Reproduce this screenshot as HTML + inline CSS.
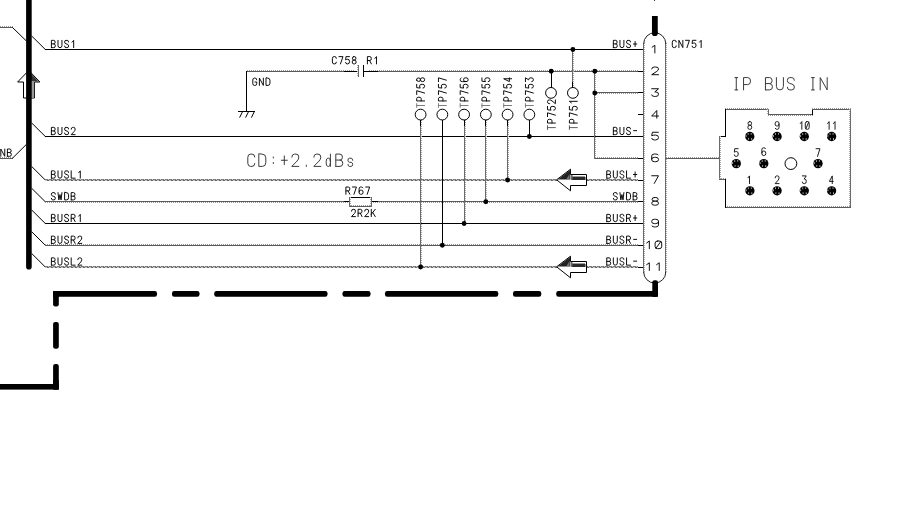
<!DOCTYPE html>
<html><head><meta charset="utf-8"><title>IP BUS IN schematic</title>
<style>
html,body{margin:0;padding:0;background:#fff;}
body{width:902px;height:512px;overflow:hidden;font-family:"Liberation Sans",sans-serif;}
svg{display:block;}
</style></head>
<body>
<svg width="902" height="512" viewBox="0 0 902 512">
<polygon points="28.8,70.4 39.8,82.0 34.5,82.0 34.5,98.0 23.5,98.0 23.5,82.0 17.6,82.0" fill="#fff" stroke="#000" stroke-width="1"/>
<polygon points="29,71.6 38.6,81.6 29,81.6" fill="#333"/>
<rect x="31" y="82" width="3.2" height="15.6" fill="#999"/>
<path d="M28.9,-3 L28.9,266.8" stroke="#000" stroke-width="5.6" stroke-linecap="round" fill="none"/>
<rect x="0" y="27" width="13" height="1" fill="#5a5a5a"/>
<line x1="0" y1="26.5" x2="13" y2="26.5" stroke="#9a9a9a" stroke-width="1" stroke-dasharray="1 1"/>
<path d="M12.5,27.5 L26.2,40.8" stroke="#000" stroke-width="1" fill="none"/>
<rect x="0" y="158" width="13" height="1" fill="#5a5a5a"/>
<line x1="0" y1="157.5" x2="13" y2="157.5" stroke="#9a9a9a" stroke-width="1" stroke-dasharray="1 1"/>
<path d="M12.5,158.2 L26.2,144.6" stroke="#000" stroke-width="1" fill="none"/>
<path d="M 0.80,156.30 L 0.80,149.00 L 4.75,156.30 L 4.75,149.00 M 7.40,156.30 L 7.40,149.00 L 9.77,149.00 Q 11.15,149.00 11.15,150.83 Q 11.15,152.53 9.77,152.53 L 7.40,152.53 M 9.77,152.53 Q 11.35,152.53 11.35,154.41 Q 11.35,156.30 9.77,156.30 L 7.40,156.30" fill="none" stroke="#000" stroke-width="0.95" stroke-linecap="round" stroke-linejoin="round"/>
<path d="M31.6,35.9 L45.3,49.5" stroke="#000" stroke-width="1" fill="none"/>
<path d="M31.6,122.9 L45.3,136.5" stroke="#000" stroke-width="1" fill="none"/>
<path d="M31.6,166.4 L45.3,180.0" stroke="#000" stroke-width="1" fill="none"/>
<path d="M31.6,188.2 L45.3,201.8" stroke="#000" stroke-width="1" fill="none"/>
<path d="M31.6,209.9 L45.3,223.5" stroke="#000" stroke-width="1" fill="none"/>
<path d="M31.6,231.7 L45.3,245.2" stroke="#000" stroke-width="1" fill="none"/>
<path d="M31.6,253.4 L45.3,267.0" stroke="#000" stroke-width="1" fill="none"/>
<rect x="45" y="49" width="598.7" height="1" fill="#000"/>
<rect x="45" y="136" width="598.7" height="1" fill="#000"/>
<rect x="45" y="223" width="598.7" height="1" fill="#000"/>
<rect x="45" y="201" width="593" height="1" fill="#5a5a5a"/>
<line x1="45" y1="202.5" x2="638" y2="202.5" stroke="#9a9a9a" stroke-width="1" stroke-dasharray="1 1"/>
<rect x="45" y="245" width="593" height="1" fill="#5a5a5a"/>
<line x1="45" y1="244.5" x2="638" y2="244.5" stroke="#9a9a9a" stroke-width="1" stroke-dasharray="1 1"/>
<rect x="45" y="179" width="593" height="2" fill="#c4c4c4"/>
<line x1="45" y1="179.5" x2="638" y2="179.5" stroke="#7a7a7a" stroke-width="1" stroke-dasharray="3 1"/>
<line x1="45" y1="180.5" x2="638" y2="180.5" stroke="#666" stroke-width="1" stroke-dasharray="2 2" stroke-dashoffset="-2"/>
<rect x="45" y="266" width="593" height="2" fill="#c4c4c4"/>
<line x1="45" y1="266.5" x2="638" y2="266.5" stroke="#7a7a7a" stroke-width="1" stroke-dasharray="3 1"/>
<line x1="45" y1="267.5" x2="638" y2="267.5" stroke="#666" stroke-width="1" stroke-dasharray="2 2" stroke-dashoffset="-2"/>
<rect x="247" y="71" width="391" height="1" fill="#5a5a5a"/>
<line x1="247" y1="70.5" x2="638" y2="70.5" stroke="#9a9a9a" stroke-width="1" stroke-dasharray="1 1"/>
<rect x="595" y="92" width="43" height="1" fill="#5a5a5a"/>
<line x1="595" y1="93.5" x2="638" y2="93.5" stroke="#9a9a9a" stroke-width="1" stroke-dasharray="1 1"/>
<rect x="595" y="158" width="43" height="1" fill="#5a5a5a"/>
<line x1="595" y1="157.5" x2="638" y2="157.5" stroke="#9a9a9a" stroke-width="1" stroke-dasharray="1 1"/>
<rect x="638" y="71" width="5.7000000000000455" height="1" fill="#000"/>
<rect x="638" y="92" width="5.7000000000000455" height="1" fill="#000"/>
<rect x="638" y="114" width="5.7000000000000455" height="1" fill="#000"/>
<rect x="638" y="158" width="5.7000000000000455" height="1" fill="#000"/>
<rect x="638" y="180" width="5.7000000000000455" height="1" fill="#000"/>
<rect x="638" y="201" width="5.7000000000000455" height="1" fill="#000"/>
<rect x="638" y="245" width="5.7000000000000455" height="1" fill="#000"/>
<rect x="638" y="267" width="5.7000000000000455" height="1" fill="#000"/>
<path d="M 51.40,47.65 L 51.40,40.35 L 53.77,40.35 Q 55.15,40.35 55.15,42.17 Q 55.15,43.88 53.77,43.88 L 51.40,43.88 M 53.77,43.88 Q 55.35,43.88 55.35,45.76 Q 55.35,47.65 53.77,47.65 L 51.40,47.65 M 58.00,40.35 L 58.00,45.58 Q 58.00,47.65 59.98,47.65 Q 61.95,47.65 61.95,45.58 L 61.95,40.35 M 68.55,41.93 Q 68.55,40.35 67.17,40.35 L 65.98,40.35 Q 64.60,40.35 64.60,42.05 Q 64.60,43.51 65.98,43.82 L 67.17,44.18 Q 68.55,44.49 68.55,45.95 Q 68.55,47.65 67.17,47.65 L 65.98,47.65 Q 64.60,47.65 64.60,46.07 M 72.09,42.17 L 73.67,40.35 L 73.67,47.65" fill="none" stroke="#000" stroke-width="0.95" stroke-linecap="round" stroke-linejoin="round"/>
<path d="M 51.40,134.65 L 51.40,127.35 L 53.77,127.35 Q 55.15,127.35 55.15,129.18 Q 55.15,130.88 53.77,130.88 L 51.40,130.88 M 53.77,130.88 Q 55.35,130.88 55.35,132.76 Q 55.35,134.65 53.77,134.65 L 51.40,134.65 M 58.00,127.35 L 58.00,132.58 Q 58.00,134.65 59.98,134.65 Q 61.95,134.65 61.95,132.58 L 61.95,127.35 M 68.55,128.93 Q 68.55,127.35 67.17,127.35 L 65.98,127.35 Q 64.60,127.35 64.60,129.05 Q 64.60,130.51 65.98,130.82 L 67.17,131.18 Q 68.55,131.49 68.55,132.95 Q 68.55,134.65 67.17,134.65 L 65.98,134.65 Q 64.60,134.65 64.60,133.07 M 71.20,129.18 Q 71.20,127.35 72.78,127.35 L 73.57,127.35 Q 75.15,127.35 75.15,129.18 Q 75.15,130.39 74.16,131.49 L 71.20,134.65 L 75.15,134.65" fill="none" stroke="#000" stroke-width="0.95" stroke-linecap="round" stroke-linejoin="round"/>
<path d="M 51.40,178.15 L 51.40,170.85 L 53.77,170.85 Q 55.15,170.85 55.15,172.68 Q 55.15,174.38 53.77,174.38 L 51.40,174.38 M 53.77,174.38 Q 55.35,174.38 55.35,176.26 Q 55.35,178.15 53.77,178.15 L 51.40,178.15 M 58.00,170.85 L 58.00,176.08 Q 58.00,178.15 59.98,178.15 Q 61.95,178.15 61.95,176.08 L 61.95,170.85 M 68.55,172.43 Q 68.55,170.85 67.17,170.85 L 65.98,170.85 Q 64.60,170.85 64.60,172.55 Q 64.60,174.01 65.98,174.32 L 67.17,174.68 Q 68.55,174.99 68.55,176.45 Q 68.55,178.15 67.17,178.15 L 65.98,178.15 Q 64.60,178.15 64.60,176.57 M 71.20,170.85 L 71.20,178.15 L 75.15,178.15 M 78.69,172.68 L 80.27,170.85 L 80.27,178.15" fill="none" stroke="#000" stroke-width="0.95" stroke-linecap="round" stroke-linejoin="round"/>
<path d="M 55.35,194.18 Q 55.35,192.60 53.97,192.60 L 52.78,192.60 Q 51.40,192.60 51.40,194.30 Q 51.40,195.76 52.78,196.07 L 53.97,196.43 Q 55.35,196.74 55.35,198.20 Q 55.35,199.90 53.97,199.90 L 52.78,199.90 Q 51.40,199.90 51.40,198.32 M 58.00,192.60 L 58.89,199.90 L 59.98,194.55 L 61.06,199.90 L 61.95,192.60 M 64.60,192.60 L 64.60,199.90 L 66.57,199.90 Q 68.55,199.90 68.55,197.71 L 68.55,194.79 Q 68.55,192.60 66.57,192.60 Z M 71.20,199.90 L 71.20,192.60 L 73.57,192.60 Q 74.95,192.60 74.95,194.43 Q 74.95,196.13 73.57,196.13 L 71.20,196.13 M 73.57,196.13 Q 75.15,196.13 75.15,198.01 Q 75.15,199.90 73.57,199.90 L 71.20,199.90" fill="none" stroke="#000" stroke-width="0.95" stroke-linecap="round" stroke-linejoin="round"/>
<path d="M 51.40,221.65 L 51.40,214.35 L 53.77,214.35 Q 55.15,214.35 55.15,216.18 Q 55.15,217.88 53.77,217.88 L 51.40,217.88 M 53.77,217.88 Q 55.35,217.88 55.35,219.76 Q 55.35,221.65 53.77,221.65 L 51.40,221.65 M 58.00,214.35 L 58.00,219.58 Q 58.00,221.65 59.98,221.65 Q 61.95,221.65 61.95,219.58 L 61.95,214.35 M 68.55,215.93 Q 68.55,214.35 67.17,214.35 L 65.98,214.35 Q 64.60,214.35 64.60,216.05 Q 64.60,217.51 65.98,217.82 L 67.17,218.18 Q 68.55,218.49 68.55,219.95 Q 68.55,221.65 67.17,221.65 L 65.98,221.65 Q 64.60,221.65 64.60,220.07 M 71.20,221.65 L 71.20,214.35 L 73.57,214.35 Q 75.15,214.35 75.15,216.30 Q 75.15,218.24 73.57,218.24 L 71.20,218.24 M 73.37,218.24 L 75.15,221.65 M 78.69,216.18 L 80.27,214.35 L 80.27,221.65" fill="none" stroke="#000" stroke-width="0.95" stroke-linecap="round" stroke-linejoin="round"/>
<path d="M 51.40,243.40 L 51.40,236.10 L 53.77,236.10 Q 55.15,236.10 55.15,237.93 Q 55.15,239.63 53.77,239.63 L 51.40,239.63 M 53.77,239.63 Q 55.35,239.63 55.35,241.51 Q 55.35,243.40 53.77,243.40 L 51.40,243.40 M 58.00,236.10 L 58.00,241.33 Q 58.00,243.40 59.98,243.40 Q 61.95,243.40 61.95,241.33 L 61.95,236.10 M 68.55,237.68 Q 68.55,236.10 67.17,236.10 L 65.98,236.10 Q 64.60,236.10 64.60,237.80 Q 64.60,239.26 65.98,239.57 L 67.17,239.93 Q 68.55,240.24 68.55,241.70 Q 68.55,243.40 67.17,243.40 L 65.98,243.40 Q 64.60,243.40 64.60,241.82 M 71.20,243.40 L 71.20,236.10 L 73.57,236.10 Q 75.15,236.10 75.15,238.05 Q 75.15,239.99 73.57,239.99 L 71.20,239.99 M 73.37,239.99 L 75.15,243.40 M 77.80,237.93 Q 77.80,236.10 79.38,236.10 L 80.17,236.10 Q 81.75,236.10 81.75,237.93 Q 81.75,239.14 80.76,240.24 L 77.80,243.40 L 81.75,243.40" fill="none" stroke="#000" stroke-width="0.95" stroke-linecap="round" stroke-linejoin="round"/>
<path d="M 51.40,265.15 L 51.40,257.85 L 53.77,257.85 Q 55.15,257.85 55.15,259.67 Q 55.15,261.38 53.77,261.38 L 51.40,261.38 M 53.77,261.38 Q 55.35,261.38 55.35,263.26 Q 55.35,265.15 53.77,265.15 L 51.40,265.15 M 58.00,257.85 L 58.00,263.08 Q 58.00,265.15 59.98,265.15 Q 61.95,265.15 61.95,263.08 L 61.95,257.85 M 68.55,259.43 Q 68.55,257.85 67.17,257.85 L 65.98,257.85 Q 64.60,257.85 64.60,259.55 Q 64.60,261.01 65.98,261.32 L 67.17,261.68 Q 68.55,261.99 68.55,263.45 Q 68.55,265.15 67.17,265.15 L 65.98,265.15 Q 64.60,265.15 64.60,263.57 M 71.20,257.85 L 71.20,265.15 L 75.15,265.15 M 77.80,259.67 Q 77.80,257.85 79.38,257.85 L 80.17,257.85 Q 81.75,257.85 81.75,259.67 Q 81.75,260.89 80.76,261.99 L 77.80,265.15 L 81.75,265.15" fill="none" stroke="#000" stroke-width="0.95" stroke-linecap="round" stroke-linejoin="round"/>
<path d="M 613.35,47.65 L 613.35,40.35 L 615.72,40.35 Q 617.10,40.35 617.10,42.17 Q 617.10,43.88 615.72,43.88 L 613.35,43.88 M 615.72,43.88 Q 617.30,43.88 617.30,45.76 Q 617.30,47.65 615.72,47.65 L 613.35,47.65 M 619.95,40.35 L 619.95,45.58 Q 619.95,47.65 621.93,47.65 Q 623.90,47.65 623.90,45.58 L 623.90,40.35 M 630.50,41.93 Q 630.50,40.35 629.12,40.35 L 627.93,40.35 Q 626.55,40.35 626.55,42.05 Q 626.55,43.51 627.93,43.82 L 629.12,44.18 Q 630.50,44.49 630.50,45.95 Q 630.50,47.65 629.12,47.65 L 627.93,47.65 Q 626.55,47.65 626.55,46.07 M 633.45,44.00 L 636.80,44.00 M 635.12,41.45 L 635.12,46.55" fill="none" stroke="#000" stroke-width="0.95" stroke-linecap="round" stroke-linejoin="round"/>
<path d="M 613.35,134.65 L 613.35,127.35 L 615.72,127.35 Q 617.10,127.35 617.10,129.18 Q 617.10,130.88 615.72,130.88 L 613.35,130.88 M 615.72,130.88 Q 617.30,130.88 617.30,132.76 Q 617.30,134.65 615.72,134.65 L 613.35,134.65 M 619.95,127.35 L 619.95,132.58 Q 619.95,134.65 621.93,134.65 Q 623.90,134.65 623.90,132.58 L 623.90,127.35 M 630.50,128.93 Q 630.50,127.35 629.12,127.35 L 627.93,127.35 Q 626.55,127.35 626.55,129.05 Q 626.55,130.51 627.93,130.82 L 629.12,131.18 Q 630.50,131.49 630.50,132.95 Q 630.50,134.65 629.12,134.65 L 627.93,134.65 Q 626.55,134.65 626.55,133.07 M 633.64,130.64 L 636.61,130.64" fill="none" stroke="#000" stroke-width="0.95" stroke-linecap="round" stroke-linejoin="round"/>
<path d="M 606.75,178.15 L 606.75,170.85 L 609.12,170.85 Q 610.50,170.85 610.50,172.68 Q 610.50,174.38 609.12,174.38 L 606.75,174.38 M 609.12,174.38 Q 610.70,174.38 610.70,176.26 Q 610.70,178.15 609.12,178.15 L 606.75,178.15 M 613.35,170.85 L 613.35,176.08 Q 613.35,178.15 615.33,178.15 Q 617.30,178.15 617.30,176.08 L 617.30,170.85 M 623.90,172.43 Q 623.90,170.85 622.52,170.85 L 621.33,170.85 Q 619.95,170.85 619.95,172.55 Q 619.95,174.01 621.33,174.32 L 622.52,174.68 Q 623.90,174.99 623.90,176.45 Q 623.90,178.15 622.52,178.15 L 621.33,178.15 Q 619.95,178.15 619.95,176.57 M 626.55,170.85 L 626.55,178.15 L 630.50,178.15 M 633.45,174.50 L 636.80,174.50 M 635.12,171.94 L 635.12,177.06" fill="none" stroke="#000" stroke-width="0.95" stroke-linecap="round" stroke-linejoin="round"/>
<path d="M 617.30,194.18 Q 617.30,192.60 615.92,192.60 L 614.73,192.60 Q 613.35,192.60 613.35,194.30 Q 613.35,195.76 614.73,196.07 L 615.92,196.43 Q 617.30,196.74 617.30,198.20 Q 617.30,199.90 615.92,199.90 L 614.73,199.90 Q 613.35,199.90 613.35,198.32 M 619.95,192.60 L 620.84,199.90 L 621.93,194.55 L 623.01,199.90 L 623.90,192.60 M 626.55,192.60 L 626.55,199.90 L 628.53,199.90 Q 630.50,199.90 630.50,197.71 L 630.50,194.79 Q 630.50,192.60 628.53,192.60 Z M 633.15,199.90 L 633.15,192.60 L 635.52,192.60 Q 636.90,192.60 636.90,194.43 Q 636.90,196.13 635.52,196.13 L 633.15,196.13 M 635.52,196.13 Q 637.10,196.13 637.10,198.01 Q 637.10,199.90 635.52,199.90 L 633.15,199.90" fill="none" stroke="#000" stroke-width="0.95" stroke-linecap="round" stroke-linejoin="round"/>
<path d="M 606.75,221.65 L 606.75,214.35 L 609.12,214.35 Q 610.50,214.35 610.50,216.18 Q 610.50,217.88 609.12,217.88 L 606.75,217.88 M 609.12,217.88 Q 610.70,217.88 610.70,219.76 Q 610.70,221.65 609.12,221.65 L 606.75,221.65 M 613.35,214.35 L 613.35,219.58 Q 613.35,221.65 615.33,221.65 Q 617.30,221.65 617.30,219.58 L 617.30,214.35 M 623.90,215.93 Q 623.90,214.35 622.52,214.35 L 621.33,214.35 Q 619.95,214.35 619.95,216.05 Q 619.95,217.51 621.33,217.82 L 622.52,218.18 Q 623.90,218.49 623.90,219.95 Q 623.90,221.65 622.52,221.65 L 621.33,221.65 Q 619.95,221.65 619.95,220.07 M 626.55,221.65 L 626.55,214.35 L 628.92,214.35 Q 630.50,214.35 630.50,216.30 Q 630.50,218.24 628.92,218.24 L 626.55,218.24 M 628.72,218.24 L 630.50,221.65 M 633.45,218.00 L 636.80,218.00 M 635.12,215.44 L 635.12,220.56" fill="none" stroke="#000" stroke-width="0.95" stroke-linecap="round" stroke-linejoin="round"/>
<path d="M 606.75,243.40 L 606.75,236.10 L 609.12,236.10 Q 610.50,236.10 610.50,237.93 Q 610.50,239.63 609.12,239.63 L 606.75,239.63 M 609.12,239.63 Q 610.70,239.63 610.70,241.51 Q 610.70,243.40 609.12,243.40 L 606.75,243.40 M 613.35,236.10 L 613.35,241.33 Q 613.35,243.40 615.33,243.40 Q 617.30,243.40 617.30,241.33 L 617.30,236.10 M 623.90,237.68 Q 623.90,236.10 622.52,236.10 L 621.33,236.10 Q 619.95,236.10 619.95,237.80 Q 619.95,239.26 621.33,239.57 L 622.52,239.93 Q 623.90,240.24 623.90,241.70 Q 623.90,243.40 622.52,243.40 L 621.33,243.40 Q 619.95,243.40 619.95,241.82 M 626.55,243.40 L 626.55,236.10 L 628.92,236.10 Q 630.50,236.10 630.50,238.05 Q 630.50,239.99 628.92,239.99 L 626.55,239.99 M 628.72,239.99 L 630.50,243.40 M 633.64,239.39 L 636.61,239.39" fill="none" stroke="#000" stroke-width="0.95" stroke-linecap="round" stroke-linejoin="round"/>
<path d="M 606.75,265.15 L 606.75,257.85 L 609.12,257.85 Q 610.50,257.85 610.50,259.67 Q 610.50,261.38 609.12,261.38 L 606.75,261.38 M 609.12,261.38 Q 610.70,261.38 610.70,263.26 Q 610.70,265.15 609.12,265.15 L 606.75,265.15 M 613.35,257.85 L 613.35,263.08 Q 613.35,265.15 615.33,265.15 Q 617.30,265.15 617.30,263.08 L 617.30,257.85 M 623.90,259.43 Q 623.90,257.85 622.52,257.85 L 621.33,257.85 Q 619.95,257.85 619.95,259.55 Q 619.95,261.01 621.33,261.32 L 622.52,261.68 Q 623.90,261.99 623.90,263.45 Q 623.90,265.15 622.52,265.15 L 621.33,265.15 Q 619.95,265.15 619.95,263.57 M 626.55,257.85 L 626.55,265.15 L 630.50,265.15 M 633.64,261.13 L 636.61,261.13" fill="none" stroke="#000" stroke-width="0.95" stroke-linecap="round" stroke-linejoin="round"/>
<rect x="246" y="71" width="1" height="41" fill="#000"/>
<rect x="238" y="111" width="17" height="1" fill="#000"/>
<path d="M242.6,111.5 L239.6,117.6" stroke="#000" stroke-width="1" fill="none"/>
<path d="M248.6,111.5 L245.6,117.6" stroke="#000" stroke-width="1" fill="none"/>
<path d="M254.4,111.5 L251.4,117.6" stroke="#000" stroke-width="1" fill="none"/>
<path d="M 256.75,79.80 Q 256.75,78.10 255.17,78.10 L 254.38,78.10 Q 252.80,78.10 252.80,80.05 L 252.80,83.45 Q 252.80,85.40 254.38,85.40 L 255.17,85.40 Q 256.75,85.40 256.75,83.45 L 256.75,81.99 L 254.97,81.99 M 259.40,85.40 L 259.40,78.10 L 263.35,85.40 L 263.35,78.10 M 266.00,78.10 L 266.00,85.40 L 267.98,85.40 Q 269.95,85.40 269.95,83.21 L 269.95,80.29 Q 269.95,78.10 267.98,78.10 Z" fill="none" stroke="#000" stroke-width="0.95" stroke-linecap="round" stroke-linejoin="round"/>
<rect x="354" y="69" width="14" height="4" fill="#fff"/>
<rect x="344" y="71" width="14" height="1" fill="#000"/>
<rect x="364" y="71" width="14" height="1" fill="#000"/>
<rect x="358" y="65" width="1" height="12" fill="#6a6a6a"/>
<line x1="357.5" y1="65" x2="357.5" y2="77" stroke="#a8a8a8" stroke-width="1" stroke-dasharray="1 1"/>
<rect x="363" y="65" width="1" height="12" fill="#000"/>
<path d="M 336.35,58.30 Q 336.35,56.60 334.77,56.60 L 333.98,56.60 Q 332.40,56.60 332.40,58.55 L 332.40,61.95 Q 332.40,63.90 333.98,63.90 L 334.77,63.90 Q 336.35,63.90 336.35,62.20 M 339.00,56.60 L 342.95,56.60 L 340.48,63.90 M 349.45,56.60 L 345.99,56.60 L 345.60,59.88 Q 346.59,59.28 347.77,59.28 Q 349.55,59.28 349.55,61.59 Q 349.55,63.90 347.77,63.90 L 347.18,63.90 Q 345.60,63.90 345.60,62.44 M 353.78,56.60 L 354.57,56.60 Q 355.95,56.60 355.95,58.30 Q 355.95,60.01 354.57,60.01 L 353.78,60.01 Q 352.40,60.01 352.40,58.30 Q 352.40,56.60 353.78,56.60 Z M 353.78,60.01 Q 352.20,60.01 352.20,61.95 Q 352.20,63.90 353.78,63.90 L 354.57,63.90 Q 356.15,63.90 356.15,61.95 Q 356.15,60.01 354.57,60.01" fill="none" stroke="#000" stroke-width="0.95" stroke-linecap="round" stroke-linejoin="round"/>
<path d="M 367.40,63.90 L 367.40,56.60 L 369.77,56.60 Q 371.35,56.60 371.35,58.55 Q 371.35,60.49 369.77,60.49 L 367.40,60.49 M 369.57,60.49 L 371.35,63.90 M 374.89,58.42 L 376.47,56.60 L 376.47,63.90" fill="none" stroke="#000" stroke-width="0.95" stroke-linecap="round" stroke-linejoin="round"/>
<rect x="349.5" y="197.5" width="22" height="9" fill="#fff"/>
<rect x="344" y="201" width="6" height="1" fill="#000"/>
<rect x="371" y="201" width="7" height="1" fill="#000"/>
<rect x="349" y="197" width="23" height="1" fill="#000"/>
<rect x="349" y="206" width="23" height="1" fill="#5a5a5a"/>
<line x1="349" y1="205.5" x2="372" y2="205.5" stroke="#9a9a9a" stroke-width="1" stroke-dasharray="1 1"/>
<rect x="349" y="197" width="1" height="10" fill="#6a6a6a"/>
<line x1="350.5" y1="197" x2="350.5" y2="207" stroke="#a8a8a8" stroke-width="1" stroke-dasharray="1 1"/>
<rect x="371" y="197" width="1" height="10" fill="#6a6a6a"/>
<line x1="370.5" y1="197" x2="370.5" y2="207" stroke="#a8a8a8" stroke-width="1" stroke-dasharray="1 1"/>
<path d="M 345.90,194.30 L 345.90,187.00 L 348.27,187.00 Q 349.85,187.00 349.85,188.95 Q 349.85,190.89 348.27,190.89 L 345.90,190.89 M 348.07,190.89 L 349.85,194.30 M 352.50,187.00 L 356.45,187.00 L 353.98,194.30 M 362.85,187.85 Q 362.36,187.00 361.47,187.00 L 360.68,187.00 Q 359.10,187.00 359.10,188.95 L 359.10,192.35 Q 359.10,194.30 360.68,194.30 L 361.47,194.30 Q 363.05,194.30 363.05,192.35 L 363.05,191.99 Q 363.05,190.16 361.47,190.16 L 360.68,190.16 Q 359.10,190.16 359.10,191.99 M 365.70,187.00 L 369.65,187.00 L 367.18,194.30" fill="none" stroke="#000" stroke-width="0.95" stroke-linecap="round" stroke-linejoin="round"/>
<path d="M 351.50,211.12 Q 351.50,209.30 353.08,209.30 L 353.87,209.30 Q 355.45,209.30 355.45,211.12 Q 355.45,212.34 354.46,213.44 L 351.50,216.60 L 355.45,216.60 M 358.10,216.60 L 358.10,209.30 L 360.47,209.30 Q 362.05,209.30 362.05,211.25 Q 362.05,213.19 360.47,213.19 L 358.10,213.19 M 360.27,213.19 L 362.05,216.60 M 364.70,211.12 Q 364.70,209.30 366.28,209.30 L 367.07,209.30 Q 368.65,209.30 368.65,211.12 Q 368.65,212.34 367.66,213.44 L 364.70,216.60 L 368.65,216.60 M 371.30,209.30 L 371.30,216.60 M 375.25,209.30 L 371.30,214.29 M 372.78,212.59 L 375.25,216.60" fill="none" stroke="#000" stroke-width="0.95" stroke-linecap="round" stroke-linejoin="round"/>
<path d="M 254.80,156.97 Q 254.80,154.10 252.00,154.10 L 250.60,154.10 Q 247.80,154.10 247.80,157.38 L 247.80,163.12 Q 247.80,166.40 250.60,166.40 L 252.00,166.40 Q 254.80,166.40 254.80,163.53 M 258.80,154.10 L 258.80,166.40 L 262.30,166.40 Q 265.80,166.40 265.80,162.71 L 265.80,157.79 Q 265.80,154.10 262.30,154.10 Z M 273.30,156.97 L 273.30,158.00 M 273.30,162.50 L 273.30,163.53 M 281.32,160.25 L 287.28,160.25 M 284.30,155.94 L 284.30,164.56 M 291.80,157.18 Q 291.80,154.10 294.60,154.10 L 296.00,154.10 Q 298.80,154.10 298.80,157.18 Q 298.80,159.22 297.05,161.07 L 291.80,166.40 L 298.80,166.40 M 306.30,165.17 L 306.30,166.40 M 313.80,157.18 Q 313.80,154.10 316.60,154.10 L 318.00,154.10 Q 320.80,154.10 320.80,157.18 Q 320.80,159.22 319.05,161.07 L 313.80,166.40 L 320.80,166.40 M 330.40,154.10 L 330.40,166.40 M 330.40,161.48 Q 330.40,158.20 328.72,158.20 L 327.88,158.20 Q 326.20,158.20 326.20,161.48 L 326.20,163.12 Q 326.20,166.40 327.88,166.40 L 328.72,166.40 Q 330.40,166.40 330.40,163.12 M 335.80,166.40 L 335.80,154.10 L 340.00,154.10 Q 342.45,154.10 342.45,157.18 Q 342.45,160.05 340.00,160.05 L 335.80,160.05 M 340.00,160.05 Q 342.80,160.05 342.80,163.22 Q 342.80,166.40 340.00,166.40 L 335.80,166.40 M 352.63,160.25 Q 352.63,158.20 351.16,158.20 L 349.44,158.20 Q 347.97,158.20 347.97,160.25 Q 347.97,162.09 349.44,162.30 L 351.16,162.30 Q 352.63,162.50 352.63,164.35 Q 352.63,166.40 351.16,166.40 L 349.44,166.40 Q 347.97,166.40 347.97,164.35" fill="none" stroke="#3a3a3a" stroke-width="1.0" stroke-linecap="round" stroke-linejoin="round"/>
<path d="M 736.27,77.60 L 736.27,89.90 M 734.88,77.60 L 737.68,77.60 M 734.88,89.90 L 737.68,89.90 M 743.55,89.90 L 743.55,77.60 L 747.75,77.60 Q 750.55,77.60 750.55,81.09 Q 750.55,84.57 747.75,84.57 L 743.55,84.57 M 765.45,89.90 L 765.45,77.60 L 769.65,77.60 Q 772.10,77.60 772.10,80.68 Q 772.10,83.55 769.65,83.55 L 765.45,83.55 M 769.65,83.55 Q 772.45,83.55 772.45,86.72 Q 772.45,89.90 769.65,89.90 L 765.45,89.90 M 776.40,77.60 L 776.40,86.42 Q 776.40,89.90 779.90,89.90 Q 783.40,89.90 783.40,86.42 L 783.40,77.60 M 794.35,80.27 Q 794.35,77.60 791.90,77.60 L 789.80,77.60 Q 787.35,77.60 787.35,80.47 Q 787.35,82.93 789.80,83.44 L 791.90,84.06 Q 794.35,84.57 794.35,87.03 Q 794.35,89.90 791.90,89.90 L 789.80,89.90 Q 787.35,89.90 787.35,87.23 M 812.92,77.60 L 812.92,89.90 M 811.52,77.60 L 814.33,77.60 M 811.52,89.90 L 814.33,89.90 M 820.20,89.90 L 820.20,77.60 L 827.20,89.90 L 827.20,77.60" fill="none" stroke="#3a3a3a" stroke-width="1.0" stroke-linecap="round" stroke-linejoin="round"/>
<rect x="420" y="120" width="1" height="148" fill="#6a6a6a"/>
<line x1="421.5" y1="120" x2="421.5" y2="268" stroke="#a8a8a8" stroke-width="1" stroke-dasharray="1 1"/>
<rect x="420" y="120" width="1" height="6" fill="#000"/>
<circle cx="420.6" cy="114.6" r="5.4" fill="#fff" stroke="#000" stroke-width="1"/>
<path d="M 424.60,100.95 L 416.70,100.95 L 416.70,98.67 Q 416.70,97.15 418.94,97.15 Q 421.18,97.15 421.18,98.67 L 421.18,100.95 M 416.70,94.50 L 416.70,90.70 L 424.60,93.08 M 416.70,84.35 L 416.70,87.67 L 420.25,88.05 Q 419.60,87.10 419.60,85.96 Q 419.60,84.25 422.10,84.25 Q 424.60,84.25 424.60,85.96 L 424.60,86.53 Q 424.60,88.05 423.02,88.05 M 416.70,80.08 L 416.70,79.32 Q 416.70,77.99 418.54,77.99 Q 420.39,77.99 420.39,79.32 L 420.39,80.08 Q 420.39,81.41 418.54,81.41 Q 416.70,81.41 416.70,80.08 Z M 420.39,80.08 Q 420.39,81.60 422.49,81.60 Q 424.60,81.60 424.60,80.08 L 424.60,79.32 Q 424.60,77.80 422.49,77.80 Q 420.39,77.80 420.39,79.32" fill="none" stroke="#000" stroke-width="0.95" stroke-linecap="round" stroke-linejoin="round"/><path d="M 416.70,107.40 L 416.70,103.60 M 416.70,105.50 L 424.60,105.50" fill="none" stroke="#777" stroke-width="0.95" stroke-linecap="round" stroke-linejoin="round"/>
<circle cx="420.6" cy="267.0" r="2.45" fill="#000"/>
<rect x="442" y="120" width="1" height="126" fill="#000"/>
<circle cx="442.35" cy="114.6" r="5.4" fill="#fff" stroke="#000" stroke-width="1"/>
<path d="M 446.35,100.95 L 438.45,100.95 L 438.45,98.67 Q 438.45,97.15 440.69,97.15 Q 442.93,97.15 442.93,98.67 L 442.93,100.95 M 438.45,94.50 L 438.45,90.70 L 446.35,93.08 M 438.45,84.35 L 438.45,87.67 L 442.00,88.05 Q 441.35,87.10 441.35,85.96 Q 441.35,84.25 443.85,84.25 Q 446.35,84.25 446.35,85.96 L 446.35,86.53 Q 446.35,88.05 444.77,88.05 M 438.45,81.60 L 438.45,77.80 L 446.35,80.18" fill="none" stroke="#000" stroke-width="0.95" stroke-linecap="round" stroke-linejoin="round"/><path d="M 438.45,107.40 L 438.45,103.60 M 438.45,105.50 L 446.35,105.50" fill="none" stroke="#777" stroke-width="0.95" stroke-linecap="round" stroke-linejoin="round"/>
<circle cx="442.35" cy="245.25" r="2.45" fill="#000"/>
<rect x="464" y="120" width="1" height="104" fill="#6a6a6a"/>
<line x1="465.5" y1="120" x2="465.5" y2="224" stroke="#a8a8a8" stroke-width="1" stroke-dasharray="1 1"/>
<rect x="464" y="120" width="1" height="6" fill="#000"/>
<circle cx="464.1" cy="114.6" r="5.4" fill="#fff" stroke="#000" stroke-width="1"/>
<path d="M 468.10,100.95 L 460.20,100.95 L 460.20,98.67 Q 460.20,97.15 462.44,97.15 Q 464.68,97.15 464.68,98.67 L 464.68,100.95 M 460.20,94.50 L 460.20,90.70 L 468.10,93.08 M 460.20,84.35 L 460.20,87.67 L 463.75,88.05 Q 463.10,87.10 463.10,85.96 Q 463.10,84.25 465.60,84.25 Q 468.10,84.25 468.10,85.96 L 468.10,86.53 Q 468.10,88.05 466.52,88.05 M 461.12,77.99 Q 460.20,78.47 460.20,79.32 L 460.20,80.08 Q 460.20,81.60 462.31,81.60 L 465.99,81.60 Q 468.10,81.60 468.10,80.08 L 468.10,79.32 Q 468.10,77.80 465.99,77.80 L 465.60,77.80 Q 463.62,77.80 463.62,79.32 L 463.62,80.08 Q 463.62,81.60 465.60,81.60" fill="none" stroke="#000" stroke-width="0.95" stroke-linecap="round" stroke-linejoin="round"/><path d="M 460.20,107.40 L 460.20,103.60 M 460.20,105.50 L 468.10,105.50" fill="none" stroke="#777" stroke-width="0.95" stroke-linecap="round" stroke-linejoin="round"/>
<circle cx="464.1" cy="223.5" r="2.45" fill="#000"/>
<rect x="485" y="120" width="1" height="82" fill="#6a6a6a"/>
<line x1="486.5" y1="120" x2="486.5" y2="202" stroke="#a8a8a8" stroke-width="1" stroke-dasharray="1 1"/>
<rect x="485" y="120" width="1" height="6" fill="#000"/>
<circle cx="485.85" cy="114.6" r="5.4" fill="#fff" stroke="#000" stroke-width="1"/>
<path d="M 489.85,100.95 L 481.95,100.95 L 481.95,98.67 Q 481.95,97.15 484.19,97.15 Q 486.43,97.15 486.43,98.67 L 486.43,100.95 M 481.95,94.50 L 481.95,90.70 L 489.85,93.08 M 481.95,84.35 L 481.95,87.67 L 485.50,88.05 Q 484.85,87.10 484.85,85.96 Q 484.85,84.25 487.35,84.25 Q 489.85,84.25 489.85,85.96 L 489.85,86.53 Q 489.85,88.05 488.27,88.05 M 481.95,77.90 L 481.95,81.22 L 485.50,81.60 Q 484.85,80.65 484.85,79.51 Q 484.85,77.80 487.35,77.80 Q 489.85,77.80 489.85,79.51 L 489.85,80.08 Q 489.85,81.60 488.27,81.60" fill="none" stroke="#000" stroke-width="0.95" stroke-linecap="round" stroke-linejoin="round"/><path d="M 481.95,107.40 L 481.95,103.60 M 481.95,105.50 L 489.85,105.50" fill="none" stroke="#777" stroke-width="0.95" stroke-linecap="round" stroke-linejoin="round"/>
<circle cx="485.85" cy="201.75" r="2.45" fill="#000"/>
<rect x="507" y="120" width="1" height="61" fill="#6a6a6a"/>
<line x1="508.5" y1="120" x2="508.5" y2="181" stroke="#a8a8a8" stroke-width="1" stroke-dasharray="1 1"/>
<rect x="507" y="120" width="1" height="6" fill="#000"/>
<circle cx="507.6" cy="114.6" r="5.4" fill="#fff" stroke="#000" stroke-width="1"/>
<path d="M 511.60,100.95 L 503.70,100.95 L 503.70,98.67 Q 503.70,97.15 505.94,97.15 Q 508.18,97.15 508.18,98.67 L 508.18,100.95 M 503.70,94.50 L 503.70,90.70 L 511.60,93.08 M 503.70,84.35 L 503.70,87.67 L 507.25,88.05 Q 506.60,87.10 506.60,85.96 Q 506.60,84.25 509.10,84.25 Q 511.60,84.25 511.60,85.96 L 511.60,86.53 Q 511.60,88.05 510.02,88.05 M 511.60,78.75 L 503.70,78.75 L 509.36,81.60 L 509.36,77.80" fill="none" stroke="#000" stroke-width="0.95" stroke-linecap="round" stroke-linejoin="round"/><path d="M 503.70,107.40 L 503.70,103.60 M 503.70,105.50 L 511.60,105.50" fill="none" stroke="#777" stroke-width="0.95" stroke-linecap="round" stroke-linejoin="round"/>
<circle cx="507.6" cy="180.0" r="2.45" fill="#000"/>
<rect x="529" y="120" width="1" height="17" fill="#000"/>
<circle cx="529.35" cy="114.6" r="5.4" fill="#fff" stroke="#000" stroke-width="1"/>
<path d="M 533.35,100.95 L 525.45,100.95 L 525.45,98.67 Q 525.45,97.15 527.69,97.15 Q 529.93,97.15 529.93,98.67 L 529.93,100.95 M 525.45,94.50 L 525.45,90.70 L 533.35,93.08 M 525.45,84.35 L 525.45,87.67 L 529.00,88.05 Q 528.35,87.10 528.35,85.96 Q 528.35,84.25 530.85,84.25 Q 533.35,84.25 533.35,85.96 L 533.35,86.53 Q 533.35,88.05 531.77,88.05 M 525.45,81.60 L 525.45,77.80 L 528.74,79.89 L 528.74,79.32 Q 528.74,77.80 530.98,77.80 Q 533.35,77.80 533.35,79.32 L 533.35,80.08 Q 533.35,81.60 531.77,81.60" fill="none" stroke="#000" stroke-width="0.95" stroke-linecap="round" stroke-linejoin="round"/><path d="M 525.45,107.40 L 525.45,103.60 M 525.45,105.50 L 533.35,105.50" fill="none" stroke="#777" stroke-width="0.95" stroke-linecap="round" stroke-linejoin="round"/>
<circle cx="529.35" cy="136.5" r="2.45" fill="#000"/>
<rect x="551" y="71" width="1" height="17" fill="#000"/>
<rect x="572" y="49" width="1" height="39" fill="#6a6a6a"/>
<line x1="573.5" y1="49" x2="573.5" y2="88" stroke="#a8a8a8" stroke-width="1" stroke-dasharray="1 1"/>
<rect x="572" y="82" width="1" height="6" fill="#000"/>
<circle cx="551.0" cy="92.9" r="5.4" fill="#fff" stroke="#000" stroke-width="1"/>
<path d="M 555.40,123.05 L 547.50,123.05 L 547.50,120.77 Q 547.50,119.25 549.74,119.25 Q 551.98,119.25 551.98,120.77 L 551.98,123.05 M 547.50,116.60 L 547.50,112.80 L 555.40,115.17 M 547.50,106.45 L 547.50,109.77 L 551.05,110.15 Q 550.40,109.20 550.40,108.06 Q 550.40,106.35 552.90,106.35 Q 555.40,106.35 555.40,108.06 L 555.40,108.63 Q 555.40,110.15 553.82,110.15 M 549.48,103.70 Q 547.50,103.70 547.50,102.18 L 547.50,101.42 Q 547.50,99.90 549.48,99.90 Q 550.79,99.90 551.98,100.85 L 555.40,103.70 L 555.40,99.90" fill="none" stroke="#000" stroke-width="0.95" stroke-linecap="round" stroke-linejoin="round"/><path d="M 547.50,129.50 L 547.50,125.70 M 547.50,127.60 L 555.40,127.60" fill="none" stroke="#555" stroke-width="0.95" stroke-linecap="round" stroke-linejoin="round"/>
<circle cx="572.9" cy="92.9" r="5.4" fill="#fff" stroke="#000" stroke-width="1"/>
<path d="M 577.30,123.05 L 569.40,123.05 L 569.40,120.77 Q 569.40,119.25 571.64,119.25 Q 573.88,119.25 573.88,120.77 L 573.88,123.05 M 569.40,116.60 L 569.40,112.80 L 577.30,115.17 M 569.40,106.45 L 569.40,109.77 L 572.95,110.15 Q 572.30,109.20 572.30,108.06 Q 572.30,106.35 574.80,106.35 Q 577.30,106.35 577.30,108.06 L 577.30,108.63 Q 577.30,110.15 575.72,110.15 M 571.38,102.84 L 569.40,101.33 L 577.30,101.33" fill="none" stroke="#000" stroke-width="0.95" stroke-linecap="round" stroke-linejoin="round"/><path d="M 569.40,129.50 L 569.40,125.70 M 569.40,127.60 L 577.30,127.60" fill="none" stroke="#555" stroke-width="0.95" stroke-linecap="round" stroke-linejoin="round"/>
<circle cx="551.2" cy="71.25" r="2.45" fill="#000"/>
<circle cx="572.9" cy="49.5" r="2.45" fill="#000"/>
<rect x="594" y="71" width="1" height="88" fill="#6a6a6a"/>
<line x1="595.5" y1="71" x2="595.5" y2="159" stroke="#a8a8a8" stroke-width="1" stroke-dasharray="1 1"/>
<circle cx="594.8" cy="71.25" r="2.45" fill="#000"/>
<circle cx="594.8" cy="93.0" r="2.45" fill="#000"/>
<polygon points="556.6,179.8 570.5,169.2 570.5,174.5 586.5,174.5 586.5,185.5 570.5,185.5 570.5,190.8" fill="#fff" stroke="#000" stroke-width="1" stroke-linejoin="miter"/>
<polygon points="557.8,179.6 570.4,169.8 570.4,179.6" fill="#222"/>
<polygon points="566.5,179.0 569.5,174.0 569.5,179.0" fill="#777"/>
<rect x="572" y="176" width="13" height="1" fill="#999"/>
<rect x="572" y="177" width="13.5" height="3" fill="#2a2a2a"/>
<rect x="571" y="175" width="1.5" height="5" fill="#666"/>
<polygon points="556.6,266.8 570.5,256.2 570.5,261.5 586.5,261.5 586.5,272.5 570.5,272.5 570.5,277.8" fill="#fff" stroke="#000" stroke-width="1" stroke-linejoin="miter"/>
<polygon points="557.8,266.6 570.4,256.8 570.4,266.6" fill="#222"/>
<polygon points="566.5,266.0 569.5,261.0 569.5,266.0" fill="#777"/>
<rect x="572" y="263" width="13" height="1" fill="#999"/>
<rect x="572" y="264" width="13.5" height="3" fill="#2a2a2a"/>
<rect x="571" y="262" width="1.5" height="5" fill="#666"/>
<rect x="643" y="43" width="1" height="230" fill="#6a6a6a"/>
<line x1="644.5" y1="43" x2="644.5" y2="273" stroke="#a8a8a8" stroke-width="1" stroke-dasharray="1 1"/>
<rect x="665" y="43" width="1" height="230" fill="#6a6a6a"/>
<line x1="666.5" y1="43" x2="666.5" y2="273" stroke="#a8a8a8" stroke-width="1" stroke-dasharray="1 1"/>
<path d="M643.7,43.8 A11.05,11.05 0 0 1 665.8,43.8" fill="none" stroke="#222" stroke-width="1"/>
<path d="M665.8,272.0 A11.05,11.05 0 0 1 643.7,272.0" fill="none" stroke="#222" stroke-width="1"/>
<path d="M654.85,16 L654.85,33" stroke="#000" stroke-width="5.8" stroke-linecap="butt" fill="none"/>
<path d="M654.85,33 L654.85,33.2" stroke="#000" stroke-width="5.8" stroke-linecap="round" fill="none"/>
<rect x="654" y="0" width="1" height="1" fill="#333"/>
<path d="M 652.13,47.18 L 654.85,45.25 L 654.85,52.95" fill="none" stroke="#000" stroke-width="0.95" stroke-linecap="round" stroke-linejoin="round"/>
<path d="M 651.70,68.92 Q 651.70,67.00 654.42,67.00 L 655.78,67.00 Q 658.50,67.00 658.50,68.92 Q 658.50,70.21 656.80,71.36 L 651.70,74.70 L 658.50,74.70" fill="none" stroke="#000" stroke-width="0.95" stroke-linecap="round" stroke-linejoin="round"/>
<path d="M 651.70,88.75 L 658.50,88.75 L 654.76,91.96 L 655.78,91.96 Q 658.50,91.96 658.50,94.14 Q 658.50,96.45 655.78,96.45 L 654.42,96.45 Q 651.70,96.45 651.70,94.91" fill="none" stroke="#000" stroke-width="0.95" stroke-linecap="round" stroke-linejoin="round"/>
<path d="M 656.80,118.20 L 656.80,110.50 L 651.70,116.02 L 658.50,116.02" fill="none" stroke="#000" stroke-width="0.95" stroke-linecap="round" stroke-linejoin="round"/>
<path d="M 658.33,132.25 L 652.38,132.25 L 651.70,135.71 Q 653.40,135.07 655.44,135.07 Q 658.50,135.07 658.50,137.51 Q 658.50,139.95 655.44,139.95 L 654.42,139.95 Q 651.70,139.95 651.70,138.41" fill="none" stroke="#000" stroke-width="0.95" stroke-linecap="round" stroke-linejoin="round"/>
<path d="M 658.16,154.90 Q 657.31,154.00 655.78,154.00 L 654.42,154.00 Q 651.70,154.00 651.70,156.05 L 651.70,159.65 Q 651.70,161.70 654.42,161.70 L 655.78,161.70 Q 658.50,161.70 658.50,159.65 L 658.50,159.26 Q 658.50,157.34 655.78,157.34 L 654.42,157.34 Q 651.70,157.34 651.70,159.26" fill="none" stroke="#000" stroke-width="0.95" stroke-linecap="round" stroke-linejoin="round"/>
<path d="M 651.70,175.75 L 658.50,175.75 L 654.25,183.45" fill="none" stroke="#000" stroke-width="0.95" stroke-linecap="round" stroke-linejoin="round"/>
<path d="M 654.42,197.50 L 655.78,197.50 Q 658.16,197.50 658.16,199.30 Q 658.16,201.09 655.78,201.09 L 654.42,201.09 Q 652.04,201.09 652.04,199.30 Q 652.04,197.50 654.42,197.50 Z M 654.42,201.09 Q 651.70,201.09 651.70,203.15 Q 651.70,205.20 654.42,205.20 L 655.78,205.20 Q 658.50,205.20 658.50,203.15 Q 658.50,201.09 655.78,201.09" fill="none" stroke="#000" stroke-width="0.95" stroke-linecap="round" stroke-linejoin="round"/>
<path d="M 652.04,226.05 Q 652.89,226.95 654.42,226.95 L 655.78,226.95 Q 658.50,226.95 658.50,224.90 L 658.50,221.30 Q 658.50,219.25 655.78,219.25 L 654.42,219.25 Q 651.70,219.25 651.70,221.30 L 651.70,221.69 Q 651.70,223.61 654.42,223.61 L 655.78,223.61 Q 658.50,223.61 658.50,221.69" fill="none" stroke="#000" stroke-width="0.95" stroke-linecap="round" stroke-linejoin="round"/>
<path d="M 646.69,242.92 L 649.33,241.00 L 649.33,248.70 M 657.74,241.00 L 659.06,241.00 Q 661.70,241.00 661.70,243.05 L 661.70,246.65 Q 661.70,248.70 659.06,248.70 L 657.74,248.70 Q 655.10,248.70 655.10,246.65 L 655.10,243.05 Q 655.10,241.00 657.74,241.00 Z M 655.93,248.19 L 660.88,241.51" fill="none" stroke="#000" stroke-width="0.95" stroke-linecap="round" stroke-linejoin="round"/>
<path d="M 646.69,264.68 L 649.33,262.75 L 649.33,270.45 M 656.59,264.68 L 659.23,262.75 L 659.23,270.45" fill="none" stroke="#000" stroke-width="0.95" stroke-linecap="round" stroke-linejoin="round"/>
<path d="M 676.25,42.00 Q 676.25,40.30 674.67,40.30 L 673.88,40.30 Q 672.30,40.30 672.30,42.25 L 672.30,45.65 Q 672.30,47.60 673.88,47.60 L 674.67,47.60 Q 676.25,47.60 676.25,45.90 M 678.90,47.60 L 678.90,40.30 L 682.85,47.60 L 682.85,40.30 M 685.50,40.30 L 689.45,40.30 L 686.98,47.60 M 695.95,40.30 L 692.49,40.30 L 692.10,43.59 Q 693.09,42.98 694.27,42.98 Q 696.05,42.98 696.05,45.29 Q 696.05,47.60 694.27,47.60 L 693.68,47.60 Q 692.10,47.60 692.10,46.14 M 699.59,42.12 L 701.17,40.30 L 701.17,47.60" fill="none" stroke="#000" stroke-width="0.95" stroke-linecap="round" stroke-linejoin="round"/>
<rect x="53.10" y="291.05" width="103.90" height="5.70" rx="2.2" ry="2.2" fill="#000"/>
<rect x="172.00" y="291.05" width="27.50" height="5.70" rx="2.2" ry="2.2" fill="#000"/>
<rect x="214.25" y="291.05" width="113.25" height="5.70" rx="2.2" ry="2.2" fill="#000"/>
<rect x="342.50" y="291.05" width="28.00" height="5.70" rx="2.2" ry="2.2" fill="#000"/>
<rect x="385.00" y="291.05" width="113.25" height="5.70" rx="2.2" ry="2.2" fill="#000"/>
<rect x="513.00" y="291.05" width="28.25" height="5.70" rx="2.2" ry="2.2" fill="#000"/>
<rect x="556.25" y="291.05" width="101.75" height="5.70" rx="2.2" ry="2.2" fill="#000"/>
<rect x="53.1" y="291.04999999999995" width="5.7" height="5.7" fill="#000"/>
<rect x="652.3" y="291.04999999999995" width="5.7" height="5.7" fill="#000"/>
<rect x="652.30" y="280.15" width="5.70" height="16.60" rx="2.2" ry="2.2" fill="#000"/>
<rect x="53.10" y="291.10" width="5.70" height="15.40" rx="2.2" ry="2.2" fill="#000"/>
<rect x="53.10" y="321.90" width="5.70" height="26.85" rx="2.2" ry="2.2" fill="#000"/>
<rect x="53.10" y="364.00" width="5.70" height="25.60" rx="2.2" ry="2.2" fill="#000"/>
<rect x="53.1" y="291.1" width="5.7" height="6" fill="#000"/>
<rect x="0" y="384" width="58.8" height="5.6" fill="#000"/>
<rect x="53.1" y="380" width="5.7" height="9.6" fill="#000"/>
<rect x="666" y="158" width="54" height="1" fill="#5a5a5a"/>
<line x1="666" y1="157.5" x2="720" y2="157.5" stroke="#9a9a9a" stroke-width="1" stroke-dasharray="1 1"/>
<rect x="725" y="109" width="44" height="1" fill="#5a5a5a"/>
<line x1="725" y1="108.5" x2="769" y2="108.5" stroke="#9a9a9a" stroke-width="1" stroke-dasharray="1 1"/>
<rect x="768" y="109" width="1" height="6" fill="#6a6a6a"/>
<line x1="767.5" y1="109" x2="767.5" y2="115" stroke="#a8a8a8" stroke-width="1" stroke-dasharray="1 1"/>
<rect x="768" y="114" width="45" height="1" fill="#5a5a5a"/>
<line x1="768" y1="115.5" x2="813" y2="115.5" stroke="#9a9a9a" stroke-width="1" stroke-dasharray="1 1"/>
<rect x="812" y="109" width="1" height="6" fill="#000"/>
<rect x="812" y="109" width="39" height="1" fill="#5a5a5a"/>
<line x1="812" y1="108.5" x2="851" y2="108.5" stroke="#9a9a9a" stroke-width="1" stroke-dasharray="1 1"/>
<rect x="850" y="109" width="1" height="99" fill="#6a6a6a"/>
<line x1="849.5" y1="109" x2="849.5" y2="208" stroke="#a8a8a8" stroke-width="1" stroke-dasharray="1 1"/>
<rect x="725" y="207" width="126" height="1" fill="#5a5a5a"/>
<line x1="725" y1="206.5" x2="851" y2="206.5" stroke="#9a9a9a" stroke-width="1" stroke-dasharray="1 1"/>
<rect x="725" y="109" width="1" height="28" fill="#000"/>
<rect x="719" y="136" width="7" height="1" fill="#000"/>
<rect x="719" y="136" width="1" height="44" fill="#6a6a6a"/>
<line x1="720.5" y1="136" x2="720.5" y2="180" stroke="#a8a8a8" stroke-width="1" stroke-dasharray="1 1"/>
<rect x="719" y="179" width="7" height="1" fill="#5a5a5a"/>
<line x1="719" y1="178.5" x2="726" y2="178.5" stroke="#9a9a9a" stroke-width="1" stroke-dasharray="1 1"/>
<rect x="725" y="179" width="1" height="29" fill="#000"/>
<circle cx="749.8" cy="136.5" r="4.65" fill="#000"/>
<rect x="747.70" y="133.10" width="1" height="1.8" fill="#aaa"/>
<rect x="750.70" y="132.90" width="1" height="1.8" fill="#999"/>
<rect x="745.60" y="135.10" width="1" height="1.8" fill="#bbb"/>
<rect x="748.05" y="137.90" width="1" height="1.8" fill="#999"/>
<rect x="751.20" y="138.10" width="1" height="1.8" fill="#bbb"/>
<path d="M 749.41,121.60 L 750.19,121.60 Q 751.55,121.60 751.55,123.40 Q 751.55,125.19 750.19,125.19 L 749.41,125.19 Q 748.04,125.19 748.04,123.40 Q 748.04,121.60 749.41,121.60 Z M 749.41,125.19 Q 747.85,125.19 747.85,127.25 Q 747.85,129.30 749.41,129.30 L 750.19,129.30 Q 751.75,129.30 751.75,127.25 Q 751.75,125.19 750.19,125.19" fill="none" stroke="#111" stroke-width="0.95" stroke-linecap="round" stroke-linejoin="round"/>
<circle cx="777.1" cy="136.5" r="4.65" fill="#000"/>
<rect x="775.00" y="133.10" width="1" height="1.8" fill="#aaa"/>
<rect x="778.00" y="132.90" width="1" height="1.8" fill="#999"/>
<rect x="772.90" y="135.10" width="1" height="1.8" fill="#bbb"/>
<rect x="775.35" y="137.90" width="1" height="1.8" fill="#999"/>
<rect x="778.50" y="138.10" width="1" height="1.8" fill="#bbb"/>
<path d="M 775.35,128.40 Q 775.83,129.30 776.71,129.30 L 777.49,129.30 Q 779.05,129.30 779.05,127.25 L 779.05,123.65 Q 779.05,121.60 777.49,121.60 L 776.71,121.60 Q 775.15,121.60 775.15,123.65 L 775.15,124.04 Q 775.15,125.96 776.71,125.96 L 777.49,125.96 Q 779.05,125.96 779.05,124.04" fill="none" stroke="#111" stroke-width="0.95" stroke-linecap="round" stroke-linejoin="round"/>
<circle cx="804.3" cy="136.5" r="4.65" fill="#000"/>
<rect x="802.20" y="133.10" width="1" height="1.8" fill="#aaa"/>
<rect x="805.20" y="132.90" width="1" height="1.8" fill="#999"/>
<rect x="800.10" y="135.10" width="1" height="1.8" fill="#bbb"/>
<rect x="802.55" y="137.90" width="1" height="1.8" fill="#999"/>
<rect x="805.70" y="138.10" width="1" height="1.8" fill="#bbb"/>
<path d="M 800.28,123.53 L 801.84,121.60 L 801.84,129.30 M 806.86,121.60 L 807.64,121.60 Q 809.20,121.60 809.20,123.65 L 809.20,127.25 Q 809.20,129.30 807.64,129.30 L 806.86,129.30 Q 805.30,129.30 805.30,127.25 L 805.30,123.65 Q 805.30,121.60 806.86,121.60 Z M 805.79,128.79 L 808.71,122.11" fill="none" stroke="#111" stroke-width="0.95" stroke-linecap="round" stroke-linejoin="round"/>
<circle cx="831.6" cy="136.5" r="4.65" fill="#000"/>
<rect x="829.50" y="133.10" width="1" height="1.8" fill="#aaa"/>
<rect x="832.50" y="132.90" width="1" height="1.8" fill="#999"/>
<rect x="827.40" y="135.10" width="1" height="1.8" fill="#bbb"/>
<rect x="829.85" y="137.90" width="1" height="1.8" fill="#999"/>
<rect x="833.00" y="138.10" width="1" height="1.8" fill="#bbb"/>
<path d="M 827.58,123.53 L 829.14,121.60 L 829.14,129.30 M 833.48,123.53 L 835.04,121.60 L 835.04,129.30" fill="none" stroke="#111" stroke-width="0.95" stroke-linecap="round" stroke-linejoin="round"/>
<circle cx="736.3" cy="163.6" r="4.65" fill="#000"/>
<rect x="734.20" y="160.20" width="1" height="1.8" fill="#aaa"/>
<rect x="737.20" y="160.00" width="1" height="1.8" fill="#999"/>
<rect x="732.10" y="162.20" width="1" height="1.8" fill="#bbb"/>
<rect x="734.55" y="165.00" width="1" height="1.8" fill="#999"/>
<rect x="737.70" y="165.20" width="1" height="1.8" fill="#bbb"/>
<path d="M 738.15,148.70 L 734.74,148.70 L 734.35,152.16 Q 735.32,151.52 736.49,151.52 Q 738.25,151.52 738.25,153.96 Q 738.25,156.40 736.49,156.40 L 735.91,156.40 Q 734.35,156.40 734.35,154.86" fill="none" stroke="#111" stroke-width="0.95" stroke-linecap="round" stroke-linejoin="round"/>
<circle cx="763.8" cy="163.6" r="4.65" fill="#000"/>
<rect x="761.70" y="160.20" width="1" height="1.8" fill="#aaa"/>
<rect x="764.70" y="160.00" width="1" height="1.8" fill="#999"/>
<rect x="759.60" y="162.20" width="1" height="1.8" fill="#bbb"/>
<rect x="762.05" y="165.00" width="1" height="1.8" fill="#999"/>
<rect x="765.20" y="165.20" width="1" height="1.8" fill="#bbb"/>
<path d="M 765.55,148.70 Q 765.07,147.80 764.19,147.80 L 763.41,147.80 Q 761.85,147.80 761.85,149.85 L 761.85,153.45 Q 761.85,155.50 763.41,155.50 L 764.19,155.50 Q 765.75,155.50 765.75,153.45 L 765.75,153.06 Q 765.75,151.14 764.19,151.14 L 763.41,151.14 Q 761.85,151.14 761.85,153.06" fill="none" stroke="#111" stroke-width="0.95" stroke-linecap="round" stroke-linejoin="round"/>
<circle cx="818.0" cy="163.6" r="4.65" fill="#000"/>
<rect x="815.90" y="160.20" width="1" height="1.8" fill="#aaa"/>
<rect x="818.90" y="160.00" width="1" height="1.8" fill="#999"/>
<rect x="813.80" y="162.20" width="1" height="1.8" fill="#bbb"/>
<rect x="816.25" y="165.00" width="1" height="1.8" fill="#999"/>
<rect x="819.40" y="165.20" width="1" height="1.8" fill="#bbb"/>
<path d="M 816.05,148.70 L 819.95,148.70 L 817.51,156.40" fill="none" stroke="#111" stroke-width="0.95" stroke-linecap="round" stroke-linejoin="round"/>
<circle cx="749.9" cy="190.8" r="4.65" fill="#000"/>
<rect x="747.80" y="187.40" width="1" height="1.8" fill="#aaa"/>
<rect x="750.80" y="187.20" width="1" height="1.8" fill="#999"/>
<rect x="745.70" y="189.40" width="1" height="1.8" fill="#bbb"/>
<rect x="748.15" y="192.20" width="1" height="1.8" fill="#999"/>
<rect x="751.30" y="192.40" width="1" height="1.8" fill="#bbb"/>
<path d="M 747.93,177.83 L 749.49,175.90 L 749.49,183.60" fill="none" stroke="#111" stroke-width="0.95" stroke-linecap="round" stroke-linejoin="round"/>
<circle cx="777.1" cy="190.8" r="4.65" fill="#000"/>
<rect x="775.00" y="187.40" width="1" height="1.8" fill="#aaa"/>
<rect x="778.00" y="187.20" width="1" height="1.8" fill="#999"/>
<rect x="772.90" y="189.40" width="1" height="1.8" fill="#bbb"/>
<rect x="775.35" y="192.20" width="1" height="1.8" fill="#999"/>
<rect x="778.50" y="192.40" width="1" height="1.8" fill="#bbb"/>
<path d="M 775.15,177.83 Q 775.15,175.90 776.71,175.90 L 777.49,175.90 Q 779.05,175.90 779.05,177.83 Q 779.05,179.11 778.07,180.26 L 775.15,183.60 L 779.05,183.60" fill="none" stroke="#111" stroke-width="0.95" stroke-linecap="round" stroke-linejoin="round"/>
<circle cx="804.3" cy="190.8" r="4.65" fill="#000"/>
<rect x="802.20" y="187.40" width="1" height="1.8" fill="#aaa"/>
<rect x="805.20" y="187.20" width="1" height="1.8" fill="#999"/>
<rect x="800.10" y="189.40" width="1" height="1.8" fill="#bbb"/>
<rect x="802.55" y="192.20" width="1" height="1.8" fill="#999"/>
<rect x="805.70" y="192.40" width="1" height="1.8" fill="#bbb"/>
<path d="M 802.35,175.90 L 806.25,175.90 L 804.10,179.11 L 804.69,179.11 Q 806.25,179.11 806.25,181.29 Q 806.25,183.60 804.69,183.60 L 803.91,183.60 Q 802.35,183.60 802.35,182.06" fill="none" stroke="#111" stroke-width="0.95" stroke-linecap="round" stroke-linejoin="round"/>
<circle cx="831.6" cy="190.8" r="4.65" fill="#000"/>
<rect x="829.50" y="187.40" width="1" height="1.8" fill="#aaa"/>
<rect x="832.50" y="187.20" width="1" height="1.8" fill="#999"/>
<rect x="827.40" y="189.40" width="1" height="1.8" fill="#bbb"/>
<rect x="829.85" y="192.20" width="1" height="1.8" fill="#999"/>
<rect x="833.00" y="192.40" width="1" height="1.8" fill="#bbb"/>
<path d="M 832.27,183.60 L 832.27,175.90 L 829.35,181.42 L 833.25,181.42" fill="none" stroke="#111" stroke-width="0.95" stroke-linecap="round" stroke-linejoin="round"/>
<circle cx="790.9" cy="163.6" r="5.9" fill="#fff" stroke="#000" stroke-width="1"/>
</svg>
</body></html>
